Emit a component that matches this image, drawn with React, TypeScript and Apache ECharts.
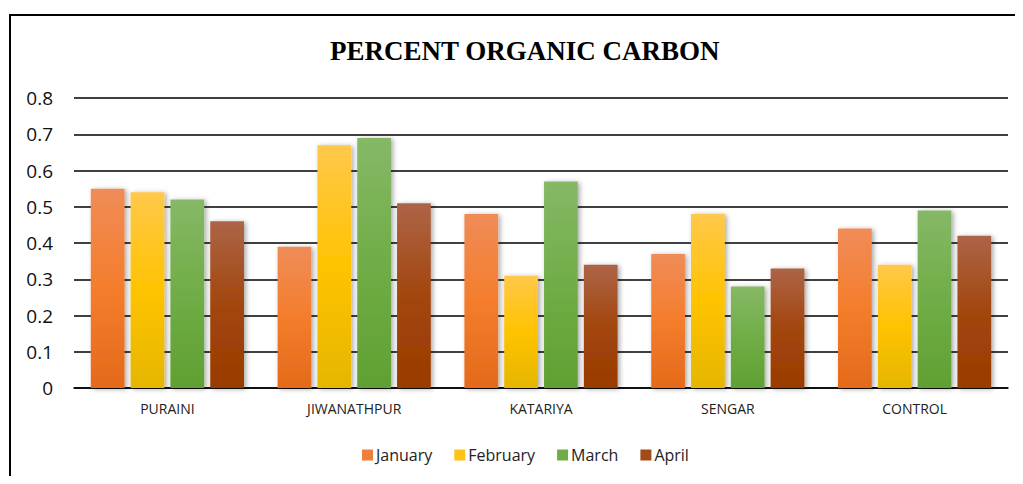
import React, { useEffect, useRef } from "react";
import * as echarts from "echarts";

const categories = ["PURAINI", "JIWANATHPUR", "KATARIYA", "SENGAR", "CONTROL"];
const seriesNames = ["January", "February", "March", "April"];
const january = [0.55, 0.39, 0.48, 0.37, 0.44];
const february = [0.54, 0.67, 0.31, 0.48, 0.34];
const march = [0.52, 0.69, 0.57, 0.28, 0.49];
const april = [0.46, 0.51, 0.34, 0.33, 0.42];
const seriesData = [january, february, march, april];

const gradientStops = [
  ["#F08C58", "#F47D2C", "#E46A1A"],
  ["#FFC84A", "#FFC300", "#E5B600"],
  ["#86B866", "#70AD47", "#60A032"],
  ["#AD6447", "#A2460E", "#9A3B00"],
];
const legendColors = ["#F07F3A", "#FFC216", "#70AD47", "#A24A18"];

export default function App() {
  const ref = useRef<HTMLDivElement>(null);
  useEffect(() => {
    if (!ref.current) return;
    const chart = echarts.init(ref.current, null, { renderer: "svg" });
    const font = "'Open Sans', 'Liberation Sans', sans-serif";
    chart.setOption({
      animation: false,
      backgroundColor: "#ffffff",
      title: {
        text: "PERCENT ORGANIC CARBON",
        left: 322,
        top: 29,
        padding: 0,
        textStyle: {
          fontFamily: "'Liberation Serif', 'Times New Roman', serif",
          fontWeight: "bold",
          fontSize: 27,
          color: "#000000",
        },
      },
      graphic: [
        {
          type: "rect",
          shape: { x: 2, y: 7, width: 1200, height: 700 },
          style: { fill: "none", stroke: "#000000", lineWidth: 2 },
          silent: true,
          z: 100,
        },
      ],
      legend: {
        bottom: 8,
        left: 349,
        itemWidth: 11,
        itemHeight: 11,
        itemGap: 22,
        icon: "rect",
        textStyle: { fontFamily: font, fontSize: 16, color: "#222222", padding: [0, 0, 0, -2] },
        data: seriesNames.map((n, i) => ({ name: n, itemStyle: { color: legendColors[i] } })),
      },
      grid: { left: 66, right: 7, top: 90, bottom: 88, containLabel: false },
      xAxis: {
        type: "category",
        data: categories,
        axisLine: { show: true, lineStyle: { color: "#000000", width: 1.5 } },
        axisTick: { show: false },
        axisLabel: { fontFamily: font, fontSize: 14, color: "#222222", margin: 13 },
      },
      yAxis: {
        type: "value",
        min: 0,
        max: 0.8,
        interval: 0.1,
        axisLine: { show: false },
        axisTick: { show: false },
        axisLabel: {
          fontFamily: font,
          fontSize: 19,
          color: "#111111",
          margin: 21,
          formatter: (v: number) => (v === 0 ? "0" : v.toFixed(1)),
        },
        splitLine: { lineStyle: { color: "#000000", width: 1.5 } },
      },
      series: seriesNames.map((name, i) => ({
        name,
        type: "bar",
        data: seriesData[i],
        barGap: "18%",
        barCategoryGap: "18%",
        itemStyle: {
          color: new echarts.graphic.LinearGradient(0, 0, 0, 1, [
            { offset: 0, color: gradientStops[i][0] },
            { offset: 0.5, color: gradientStops[i][1] },
            { offset: 1, color: gradientStops[i][2] },
          ]),
          shadowColor: "rgba(0,0,0,0.35)",
          shadowBlur: 5,
          shadowOffsetX: 2,
          shadowOffsetY: 1,
        },
      })),
    });
    return () => chart.dispose();
  }, []);
  return <div ref={ref} style={{ width: 1007, height: 468 }} />;
}
